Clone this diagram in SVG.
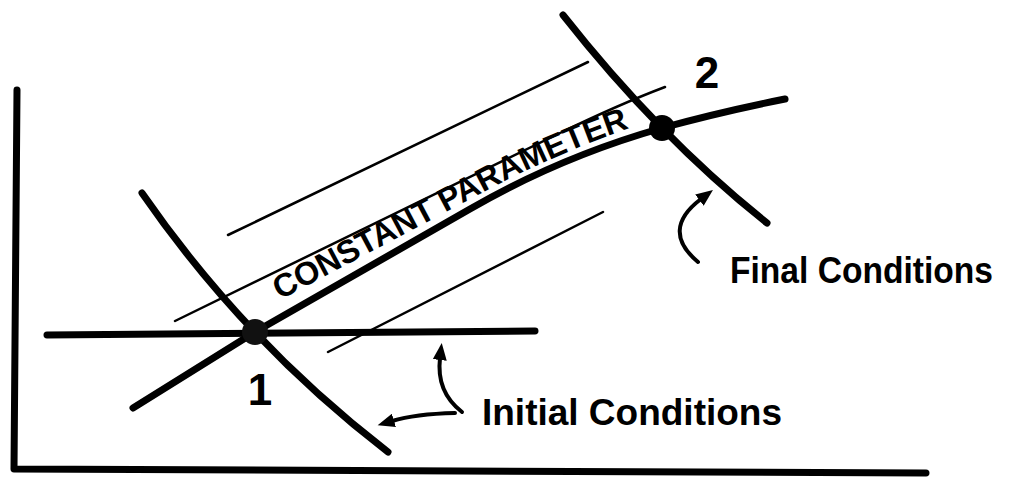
<svg xmlns="http://www.w3.org/2000/svg" width="1019" height="478" viewBox="0 0 1019 478">
<style>
.thick{fill:none;stroke:#000;stroke-width:7;stroke-linecap:round;stroke-linejoin:round}
.thin{fill:none;stroke:#000;stroke-width:2.5;stroke-linecap:round}
.arrow{fill:none;stroke:#000;stroke-width:4;stroke-linecap:round}
.lbl{font-family:"Liberation Sans",Arial,sans-serif;font-weight:bold;fill:#000}
</style>
<defs>
<marker id="ah" markerUnits="userSpaceOnUse" markerWidth="18" markerHeight="14" refX="2" refY="7" orient="auto" viewBox="0 0 18 14">
<path d="M0,0 L17,7 L0,14 z" fill="#000"/>
</marker>
<path id="tp" d="M280,300 L480,194 Q560,151 645,123"/>
</defs>
<rect width="1019" height="478" fill="#fff"/>
<g id="axes">
<path class="thick" d="M17,90 L14,469 L926,473"/>
</g>
<g id="guides">
<path class="thin" d="M228,235 L588,62"/>
<path class="thin" d="M175,321 L560,133 Q620,104 665,87"/>
<path class="thin" d="M328,352 L603,212"/>
</g>
<g id="initial-line">
<path class="thick" d="M47,335 L535,331" stroke-width="6"/>
<path class="thick" d="M142,193 Q245,342 388,452"/>
</g>
<g id="final-line">
<path class="thick" d="M563,15 Q659,137 767,223"/>
</g>
<g id="process-curve">
<path class="thick" stroke-width="8.5" d="M133,408 L255,332 L470,209 Q560,157 662,128 Q720,112 785,99"/>
<text class="lbl" font-size="32.5"><textPath href="#tp" textLength="390" lengthAdjust="spacingAndGlyphs">CONSTANT PARAMETER</textPath></text>
</g>
<g id="point1">
<circle cx="255" cy="332" r="13" fill="#111"/>
<text class="lbl" x="260" y="405" font-size="44" text-anchor="middle">1</text>
</g>
<g id="point2">
<circle cx="662" cy="128" r="13" fill="#000"/>
<text class="lbl" x="707" y="88" font-size="44" text-anchor="middle">2</text>
</g>
<g id="connectors">
<path class="arrow" d="M462,412 Q436,392 440,358" marker-end="url(#ah)"/>
<path class="arrow" d="M455,413 Q415,414 392,421" marker-end="url(#ah)"/>
<path class="arrow" d="M698,262 Q660,230 701,199" marker-end="url(#ah)"/>
</g>
<g id="label-initial">
<text class="lbl" x="482" y="425" font-size="36" textLength="300" lengthAdjust="spacingAndGlyphs">Initial Conditions</text>
</g>
<g id="label-final">
<text class="lbl" x="730" y="283" font-size="36" textLength="263" lengthAdjust="spacingAndGlyphs">Final Conditions</text>
</g>
</svg>
